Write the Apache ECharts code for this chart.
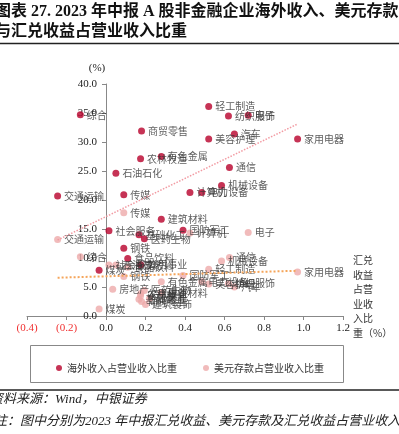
<!DOCTYPE html>
<html>
<head>
<meta charset="utf-8">
<script src="https://cdn.jsdelivr.net/npm/echarts@6/dist/echarts.min.js"></script>
<style>
  html, body { margin: 0; padding: 0; background: #fff; }
  #container { width: 399px; height: 434px; }
</style>
</head>
<body>
<div id="container"></div>
<script>
// industries
var industries = ['综合','商贸零售','农林牧渔','有色金属','石油石化','轻工制造','纺织服饰','电子','汽车','美容护理',
  '家用电器','通信','机械设备','计算机','电力设备','建筑材料','国防军工','传媒','交通运输','社会服务',
  '基础化工','医药生物','钢铁','食品饮料','公用事业','煤炭','房地产','建筑装饰','环保'];
// 汇兑收益占营业收入比重 (%)
var fxRatio = [-0.13,0.18,0.175,0.28,0.05,0.52,0.62,0.72,0.65,0.52,
  0.97,0.625,0.585,0.425,0.485,0.28,0.39,0.09,-0.245,0.015,
  0.167,0.194,0.09,0.11,0.176,-0.035,0.034,0.2,0.22];
// 海外收入占营业收入比重 (%)
var overseasRatio = [34.7,31.9,27.1,27.5,24.6,36.1,34.5,34.6,31.4,30.5,
  30.5,25.6,22.5,21.3,21.3,16.7,14.8,20.9,20.7,14.7,
  14.0,13.3,11.7,9.9,8.85,7.9,null,null,null];
// 美元存款占营业收入比重 (%)
var usdDepositRatio = [10.2,2.5,3.5,5.9,8.8,8.05,5.6,14.4,5.0,5.5,
  7.6,10.1,9.5,14.3,5.9,4.0,7.0,17.8,13.2,8.8,
  2.9,4.4,6.8,8.4,3.9,1.2,4.6,2.0,3.0];
// dotted trend lines, end points
var overseasTrend = [[-0.245,13.1],[0.97,33.1]];
var usdTrend = [[-0.245,6.6],[0.97,7.8]];

var xTicks = {min: -0.4, max: 1.2, interval: 0.2};
var yTicks = {min: 0, max: 40, interval: 5};

var cjk = '"Noto Sans CJK SC"';
var serif = '"Liberation Serif", "Noto Sans CJK SC"';

var gridLeft = 27, gridRight = 56;
var plotWidth = 399 - gridLeft - gridRight;
// y axis sits where x = 0
var yAxisShift = plotWidth * (0 - xTicks.min) / (xTicks.max - xTicks.min);

function buildPoints(values){
  var out = [];
  for(var i in industries){
    if(values[i] == null) continue;
    out.push({name: industries[i], value: [fxRatio[i], values[i]]});
  }
  return out;
}

var labelStyle = {
  show: true,
  position: 'right',
  distance: 3,
  formatter: '{b}',
  color: '#333',
  fontSize: 10,
  fontFamily: cjk
};

var echartScatter = echarts.init(document.getElementById('container'));
var option = {
  animation: false,
  grid: { left: gridLeft, right: gridRight, top: 84, bottom: 118, containLabel: false },
  legend: {
    data: ['海外收入占营业收入比重', '美元存款占营业收入比重'],
    left: 51, top: 358,
    icon: 'circle', itemWidth: 6, itemHeight: 6, itemGap: 26,
    textStyle: { fontSize: 10, color: '#333', fontFamily: cjk }
  },
  xAxis: {
    type: 'value',
    min: xTicks.min, max: xTicks.max, interval: xTicks.interval,
    splitLine: { show: false },
    axisLine: { onZero: false, lineStyle: { color: '#888' } },
    axisTick: { show: true, length: 4, lineStyle: { color: '#888' } },
    axisLabel: {
      margin: 7,
      color: '#222', fontSize: 11, fontFamily: serif,
      formatter: function(v){
        if(v < 0) return '{neg|(' + Math.abs(v).toFixed(1) + ')}';
        return v.toFixed(1);
      },
      rich: { neg: { color: '#F03030', fontSize: 11, fontFamily: serif } }
    }
  },
  yAxis: {
    type: 'value',
    position: 'left',
    offset: -yAxisShift,
    min: yTicks.min, max: yTicks.max, interval: yTicks.interval,
    name: '(%)',
    nameGap: 10,
    nameTextStyle: { color: '#222', fontSize: 11, fontFamily: serif, padding: [0, 18, 0, 0] },
    splitLine: { show: false },
    axisLine: { onZero: false, lineStyle: { color: '#888' } },
    axisTick: { show: true, length: 4, lineStyle: { color: '#888' } },
    axisLabel: {
      margin: 9,
      color: '#222', fontSize: 11, fontFamily: serif,
      formatter: function(v){ return v.toFixed(1); }
    }
  },
  series: [{
    name: '海外收入占营业收入比重',
    type: 'scatter',
    symbolSize: 7,
    itemStyle: { color: '#B8002A' },
    label: labelStyle,
    data: buildPoints(overseasRatio)
  }, {
    name: '美元存款占营业收入比重',
    type: 'scatter',
    symbolSize: 7,
    itemStyle: { color: '#EDAAAA' },
    label: labelStyle,
    data: buildPoints(usdDepositRatio)
  }, {
    name: 'trend1',
    type: 'line',
    symbol: 'none',
    silent: true,
    lineStyle: { color: '#F29AA2', width: 1.5, type: 'dotted' },
    data: overseasTrend
  }, {
    name: 'trend2',
    type: 'line',
    symbol: 'none',
    silent: true,
    lineStyle: { color: '#F5A55A', width: 2, type: 'dotted' },
    data: usdTrend
  }],
  graphic: [
    { type: 'text', left: -5, top: 4,
      style: { text: '图表 27. 2023 年中报 A 股非金融企业海外收入、美元存款', fill: '#111',
        font: 'bold 16px ' + serif } },
    { type: 'text', left: -5, top: 24,
      style: { text: '与汇兑收益占营业收入比重', fill: '#111', font: 'bold 16px ' + serif } },
    { type: 'line', shape: { x1: 0, y1: 43.5, x2: 399, y2: 43.5 },
      style: { stroke: '#222', lineWidth: 1.3 } },
    { type: 'text', left: 353, top: 253,
      style: { text: '汇兑\n收益\n占营\n业收\n入比\n重（%）', fill: '#333',
        font: '10px ' + cjk, lineHeight: 14.5 } },
    { type: 'rect', shape: { x: 30.5, y: 345.5, width: 313, height: 37 },
      style: { fill: 'none', stroke: '#888', lineWidth: 1 } },
    { type: 'line', shape: { x1: 0, y1: 390, x2: 399, y2: 390 },
      style: { stroke: '#222', lineWidth: 1.3 } },
    { type: 'text', left: -10, top: 393,
      style: { text: '资料来源：Wind，中银证券', fill: '#222', font: 'italic 13px ' + serif } },
    { type: 'text', left: -6, top: 415,
      style: { text: '注：图中分别为2023 年中报汇兑收益、美元存款及汇兑收益占营业收入比重', fill: '#222',
        font: 'italic 13px ' + serif } }
  ]
};
echartScatter.setOption(option);
</script>
</body>
</html>
